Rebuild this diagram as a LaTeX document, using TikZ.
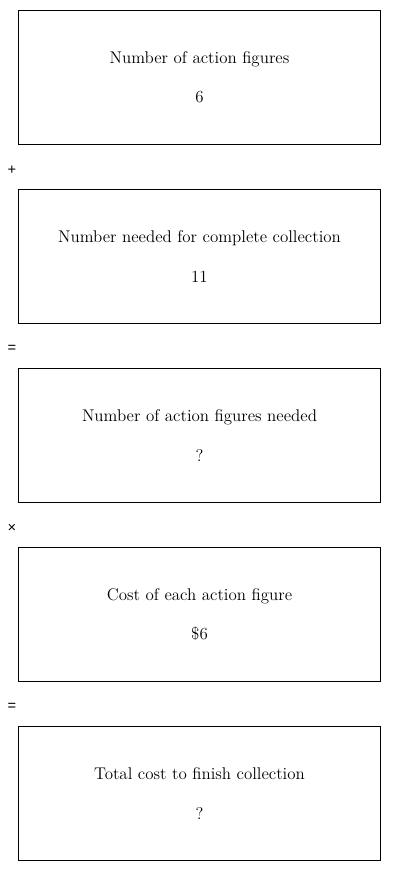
\documentclass[tikz,border=0pt]{standalone}
\usepackage{fontspec}
\newfontfamily\opfont{Liberation Sans}
\usetikzlibrary{positioning}
\tikzset{
  stepbox/.style={draw=black, line width=0.75pt, minimum width=272pt,
    minimum height=101pt, align=center, font=\fontsize{12.7}{15}\selectfont,
    inner sep=0pt},
  opsign/.style={font=\opfont\fontsize{11}{13}\selectfont, inner sep=0pt}
}

\begin{document}
\begin{tikzpicture}[x=0.75pt, y=-0.75pt]
    \useasboundingbox (0,0) rectangle (400,872);
    \node[stepbox] (figs) at (199.5,77.5)
         {Number of action figures\\[14.5pt] 6};
    \node[stepbox] (full) at (199.5,256.5)
         {Number needed for complete collection\\[14.5pt] 11};
    \node[stepbox] (need) at (199.5,435.5)
         {Number of action figures needed\\[14.5pt] ?};
    \node[stepbox] (cost) at (199.5,614.5)
         {Cost of each action figure\\[14.5pt] \$6};
    \node[stepbox] (total) at (199.5,793.5)
         {Total cost to finish collection\\[14.5pt] ?};
    % operators between the boxes
    \node[opsign] (plus) at (12,170) {+};
    \node[opsign] (eqa) at (12,349) {=};
    \node[opsign] (times) at (12,528) {×};
    \node[opsign] (eqb) at (12,707) {=};
  \end{tikzpicture}
\end{document}
